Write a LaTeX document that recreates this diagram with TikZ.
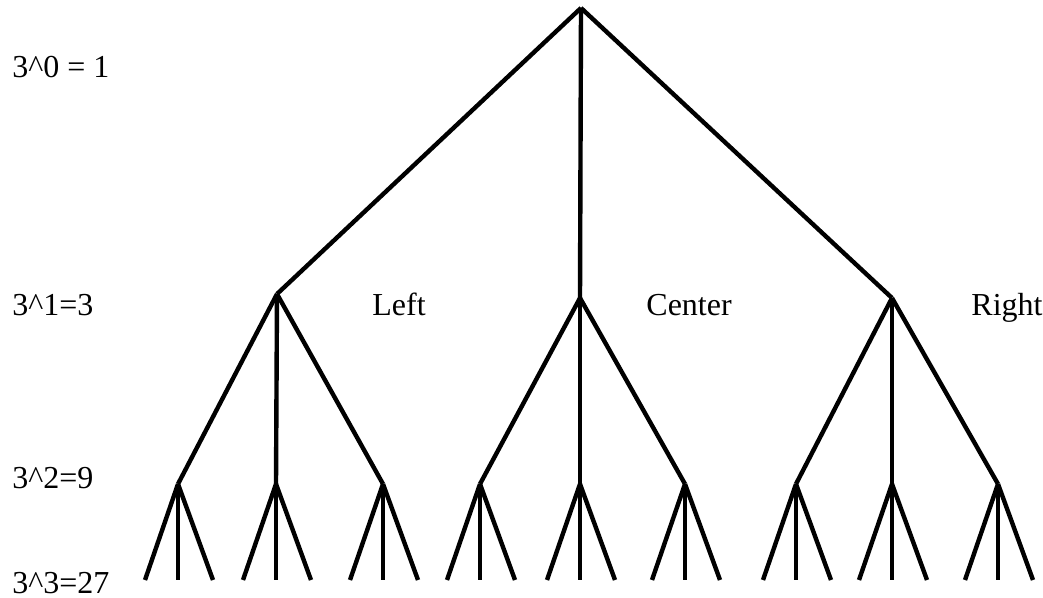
\documentclass[tikz,border=0pt]{standalone}
\usepackage{fontspec}
\setmainfont{Liberation Serif}
\begin{document}
\begin{tikzpicture}[x=0.5pt,y=-0.5pt,
  edge/.style={line width=2.2pt,black},
  lbl/.style={anchor=base west,inner sep=0pt,font=\fontsize{16}{19}\selectfont}]
\useasboundingbox (0,0) rectangle (1043,598);
% root and levels
\coordinate (r) at (581,8);
\coordinate (a) at (277,294);
\coordinate (b) at (580,298);
\coordinate (c) at (892,298);
\foreach \n/\x in {a1/178,a2/276,a3/383,b1/480,b2/580,b3/685,c1/796,c2/892,c3/998}{
  \coordinate (\n) at (\x,484);
  \coordinate (\n l) at (\x-33,580);
  \coordinate (\n m) at (\x,580);
  \coordinate (\n r) at (\x+35,580);
}
\draw[edge] (r) -- (a);
\draw[edge] (r) -- (b);
\draw[edge] (r) -- (c);
\foreach \p in {a,b,c}{
  \draw[edge] (\p) -- (\p1);
  \draw[edge] (\p) -- (\p2);
  \draw[edge] (\p) -- (\p3);
}
\foreach \n in {a1,a2,a3,b1,b2,b3,c1,c2,c3}{
  \draw[edge] (\n) -- (\n l);
  \draw[edge] (\n) -- (\n m);
  \draw[edge] (\n) -- (\n r);
}
\node[lbl] (t0) at (12,78) {3\textasciicircum0 = 1};
\node[lbl] (t1) at (12,316) {3\textasciicircum1=3};
\node[lbl] (t2) at (12,488) {3\textasciicircum2=9};
\node[lbl] (t3) at (12,593) {3\textasciicircum3=27};
\node[lbl] (left) at (372,316) {Left};
\node[lbl] (center) at (646,316) {Center};
\node[lbl] (right) at (971,316) {Right};
\end{tikzpicture}
\end{document}
